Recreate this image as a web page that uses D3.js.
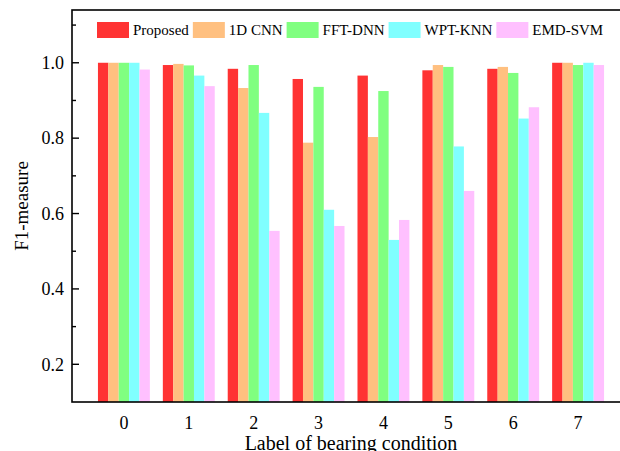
<!DOCTYPE html>
<html>
<head>
<meta charset="utf-8">
<script src="https://cdn.jsdelivr.net/npm/d3@7"></script>
<style>
  html, body { margin: 0; padding: 0; background: #fff; }
  svg { display: block; }
  text { font-family: "Liberation Serif", "Times New Roman", serif; fill: #000; }
</style>
</head>
<body>
<svg id="chart" width="620" height="451"></svg>
<script>
// Bearing condition labels (x categories)
const categories = [0, 1, 2, 3, 4, 5, 6, 7];

// Method names and fill colours
const methods = ["Proposed", "1D CNN", "FFT-DNN", "WPT-KNN", "EMD-SVM"];
const colors  = ["#ff3333", "#ffc080", "#80ff80", "#80ffff", "#ffc0ff"];

// F1-measure per method, one value per bearing condition
const proposed = [1.000, 0.994, 0.984, 0.957, 0.966, 0.980, 0.984, 1.000];
const cnn1d    = [1.000, 0.997, 0.933, 0.788, 0.803, 0.994, 0.989, 1.000];
const fftDnn   = [1.000, 0.993, 0.994, 0.936, 0.925, 0.989, 0.973, 0.994];
const wptKnn   = [1.000, 0.966, 0.867, 0.610, 0.530, 0.778, 0.852, 1.000];
const emdSvm   = [0.982, 0.938, 0.554, 0.567, 0.583, 0.660, 0.882, 0.994];
const series = [proposed, cnn1d, fftDnn, wptKnn, emdSvm];

// Y axis ticks
const yMajorTicks = [0.2, 0.4, 0.6, 0.8, 1.0];
const yMinorTicks = [0.3, 0.5, 0.7, 0.9, 1.1];

const svg = d3.select("#chart");

const plotLeft = 72, plotRight = 630, plotTop = 10, plotBottom = 402;

const x = d3.scaleLinear().domain([-0.8, 7.8]).range([plotLeft, plotRight]);
const y = d3.scaleLinear().domain([0.1, 1.14]).range([plotBottom, plotTop]);

const barW = 0.16; // width of one bar in category units
const nS = series.length;

// Bars
const g = svg.append("g");
series.forEach((vals, si) => {
  g.selectAll(null)
    .data(vals.map((v, i) => ({ c: categories[i], v })))
    .enter()
    .append("rect")
    .attr("x", d => x(d.c + (si - nS / 2) * barW))
    .attr("width", d => x(d.c + (si - nS / 2 + 1) * barW) - x(d.c + (si - nS / 2) * barW))
    .attr("y", d => y(d.v))
    .attr("height", d => y(0.1) - y(d.v))
    .attr("fill", colors[si]);
});

// Frame
svg.append("rect")
  .attr("x", plotLeft).attr("y", plotTop)
  .attr("width", plotRight - plotLeft).attr("height", plotBottom - plotTop)
  .attr("fill", "none").attr("stroke", "#000").attr("stroke-width", 1.6);

// Y ticks pointing into the plot
svg.selectAll(".ymaj").data(yMajorTicks).enter().append("line")
  .attr("x1", plotLeft).attr("x2", plotLeft + 7)
  .attr("y1", d => y(d)).attr("y2", d => y(d))
  .attr("stroke", "#000").attr("stroke-width", 1.4);
svg.selectAll(".ymin").data(yMinorTicks).enter().append("line")
  .attr("x1", plotLeft).attr("x2", plotLeft + 4)
  .attr("y1", d => y(d)).attr("y2", d => y(d))
  .attr("stroke", "#000").attr("stroke-width", 1.4);

// Y tick labels
svg.selectAll(".ylab").data(yMajorTicks).enter().append("text")
  .attr("x", plotLeft - 8).attr("y", d => y(d))
  .attr("dy", "0.35em")
  .attr("text-anchor", "end")
  .attr("font-size", 18)
  .text(d => d3.format(".1f")(d));

// X tick labels
svg.selectAll(".xlab").data(categories).enter().append("text")
  .attr("x", d => x(d)).attr("y", 428.5)
  .attr("text-anchor", "middle")
  .attr("font-size", 18)
  .text(d => d);

// Axis titles
svg.append("text")
  .attr("x", x(3.5)).attr("y", 449.5)
  .attr("text-anchor", "middle")
  .attr("font-size", 20)
  .text("Label of bearing condition");

svg.append("text")
  .attr("transform", `translate(28,${(plotTop + plotBottom) / 2}) rotate(-90)`)
  .attr("text-anchor", "middle")
  .attr("font-size", 19)
  .text("F1-measure");

// Legend
const leg = svg.append("g");
let lx = 97;
methods.forEach((m, i) => {
  leg.append("rect")
    .attr("x", lx).attr("y", 22).attr("width", 32).attr("height", 16)
    .attr("fill", colors[i]);
  const t = leg.append("text")
    .attr("x", lx + 36).attr("y", 35)
    .attr("font-size", 15)
    .text(m);
  lx += 36 + t.node().getComputedTextLength() + 4;
});
</script>
</body>
</html>
